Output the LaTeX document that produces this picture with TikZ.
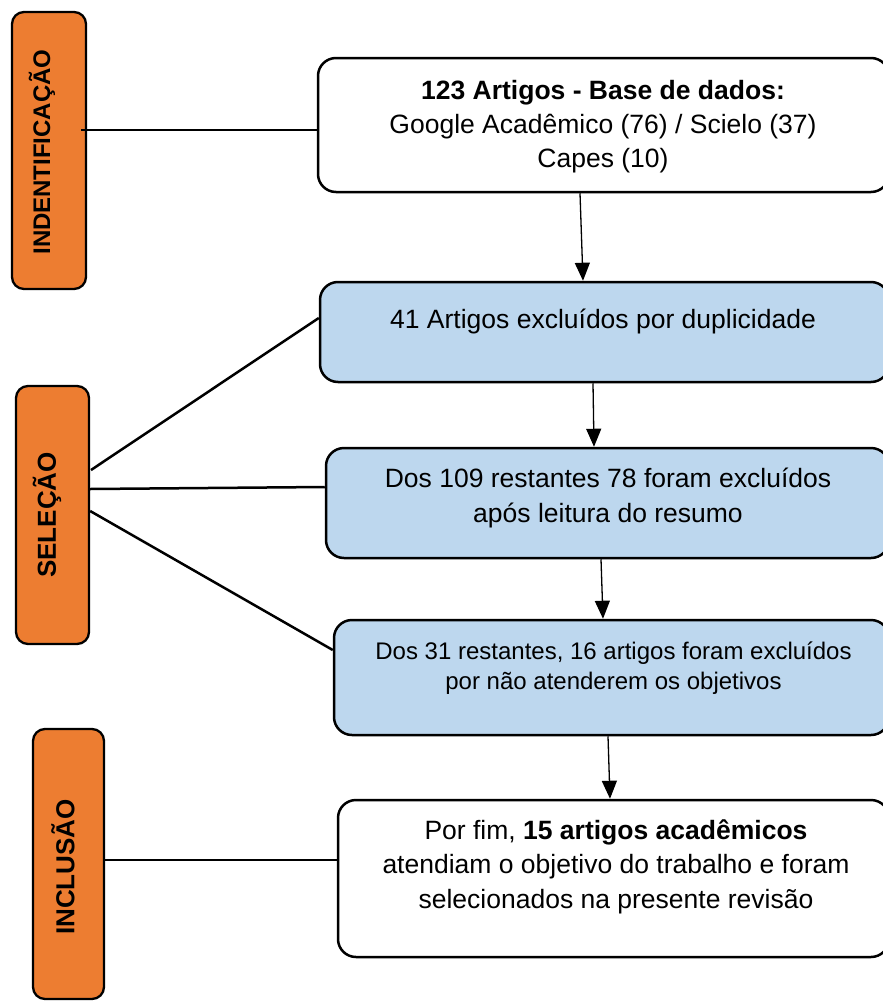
\documentclass[tikz,border=0pt]{standalone}
\usepackage{fontspec}
\setmainfont{Liberation Sans}
\usetikzlibrary{arrows.meta}
\definecolor{orng}{HTML}{ED7D31}
\definecolor{lblue}{HTML}{BDD7EE}
\begin{document}
\begin{tikzpicture}[x=1pt,y=-1pt,
 side/.style={draw=black, line width=2.3pt, fill=orng, rounded corners=12pt, inner sep=0pt},
 flowbox/.style={draw=black, line width=2.5pt, rounded corners=18pt, inner sep=0pt},
 bluebox/.style={flowbox, fill=lblue},
 whitebox/.style={flowbox, fill=white},
 txt/.style={align=center, inner sep=0pt, font=\fontsize{26.5}{34}\selectfont},
 sidetxt/.style={rotate=90, inner sep=0pt, font=\bfseries\fontsize{26}{30}\selectfont},
 link/.style={line width=2.5pt},
 arr/.style={line width=1.3pt, -{Triangle[width=15pt,length=18pt]}}]
\useasboundingbox (0,0) rectangle (883,1001);
\fill[white] (0,0) rectangle (883,1001);

% side labels
\node[side, minimum width=74pt, minimum height=277pt] (ident) at (49,150.5) {};
\node[sidetxt, font=\bfseries\fontsize{24}{28}\selectfont] (identt) at (42,152) {INDENTIFICAÇÃO};
\node[side, minimum width=73pt, minimum height=258pt] (sel) at (52.5,515) {};
\node[sidetxt] (selt) at (47,515) {SELEÇÃO};
\node[side, minimum width=71pt, minimum height=270pt] (incl) at (68.5,864) {};
\node[sidetxt] (inclt) at (63,867) {INCLUSÃO};

% flow boxes (right edges run off the page, as in the reference)
\node[whitebox, minimum width=571pt, minimum height=134pt] (b1) at (603.5,125) {};
\node[txt] (b1t) at (603,126.5) {\textbf{123 Artigos - Base de dados:}\\Google Acadêmico (76) / Scielo (37)\\Capes (10)};
\node[bluebox, minimum width=569pt, minimum height=100pt] (b2) at (604.5,332) {};
\node[txt] (b2t) at (603,321) {41 Artigos excluídos por duplicidade};
\node[bluebox, minimum width=563pt, minimum height=110pt] (b3) at (607.5,503) {};
\node[txt, font=\fontsize{26.5}{35}\selectfont] (b3t) at (608,497.5) {Dos 109 restantes 78 foram excluídos\\após leitura do resumo};
\node[bluebox, minimum width=555pt, minimum height=115pt] (b4) at (611.5,677.5) {};
\node[txt, font=\fontsize{24}{30}\selectfont] (b4t) at (613.5,668) {Dos 31 restantes, 16 artigos foram excluídos\\por não atenderem os objetivos};
\node[whitebox, minimum width=551pt, minimum height=157pt] (b5) at (613.5,878.5) {};
\node[txt, font=\fontsize{26.5}{34.5}\selectfont] (b5t) at (616,866.5) {Por fim, \textbf{15 artigos acadêmicos}\\atendiam o objetivo do trabalho e foram\\selecionados na presente revisão};

% side links
\draw[link] (80,130 -| ident.east) ++(-6,0) -- (b1.west |- 0,130);
\draw[link] (91,470) -- (b2.west |- 0,318);
\draw[link] (sel.east |- 0,489) -- (b3.west |- 0,487);
\draw[link] (sel.east |- 0,511) -- (b4.west |- 0,650);
\draw[link] (incl.east |- 0,860) -- (b5.west |- 0,860);

% arrows
\draw[arr] (580,0 |- b1.south) -- (583,0 |- b2.north);
\draw[arr] (593,0 |- b2.south) -- (594,0 |- b3.north);
\draw[arr] (601,0 |- b3.south) -- (603,0 |- b4.north);
\draw[arr] (608,0 |- b4.south) -- (610,0 |- b5.north);
\end{tikzpicture}
\end{document}
